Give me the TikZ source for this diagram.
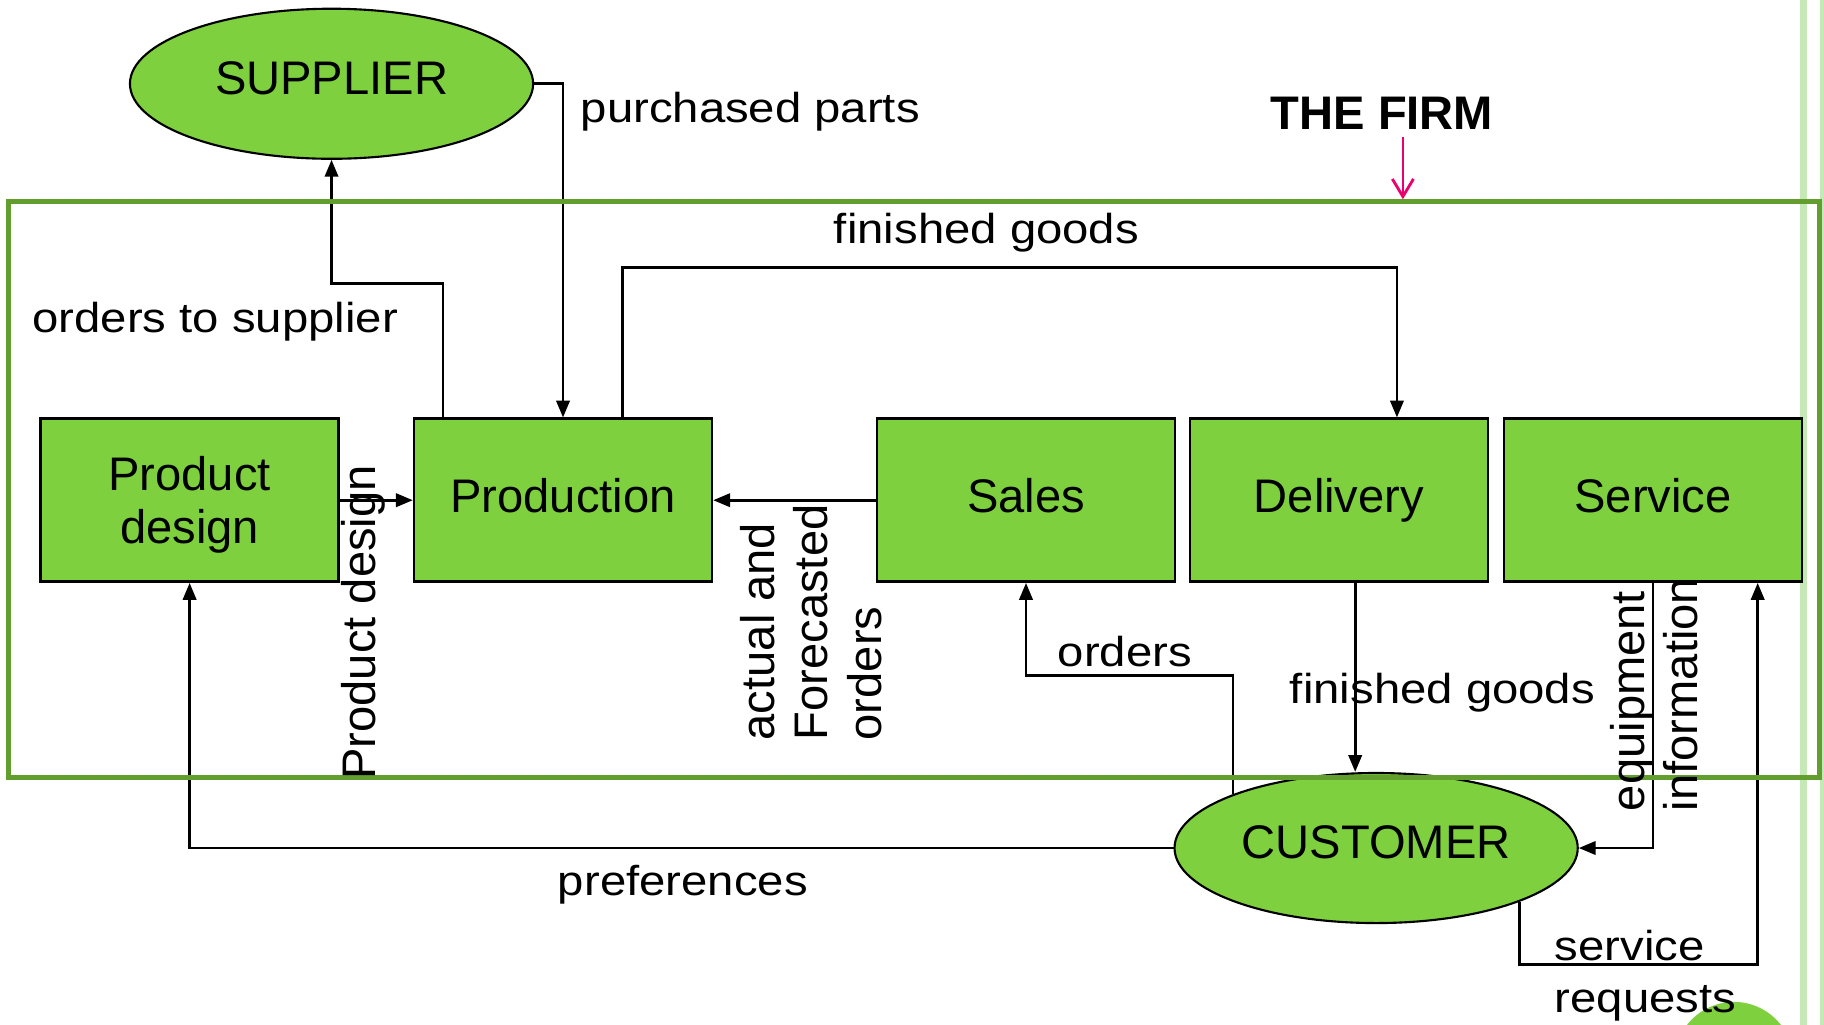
\documentclass[tikz,border=0pt]{standalone}
\usepackage{fontspec}
\setmainfont{Liberation Sans}
\usepackage{graphicx}
\usepackage{tikz}
\usetikzlibrary{arrows.meta,positioning,calc,shapes.geometric}
\definecolor{unitc}{RGB}{126,208,62}
\definecolor{firmc}{RGB}{98,158,46}
\definecolor{stripec}{RGB}{197,232,183}
\definecolor{markc}{RGB}{235,0,110}
\newcommand{\wide}[1]{\scalebox{1.13}[1]{#1}}

\begin{document}
\begin{tikzpicture}[x=0.011633cm, y=-0.011633cm,
  every node/.style={font=\fontsize{13.4}{15.2}\selectfont},
  dept/.style={draw=black, fill=unitc, line width=0.7pt, minimum width=2.978cm, minimum height=1.629cm, inner sep=0pt, align=center},
  oneline/.style={text height=0.8em, text depth=0.128em},
  party/.style={ellipse, draw=black, fill=unitc, line width=0.6pt, minimum width=4.03cm, minimum height=1.5cm, inner sep=0pt, text height=0.8em, text depth=0.18em},
  flow/.style={line width=0.75pt, -{Triangle[length=4.8pt, width=3.8pt]}},
  lbl/.style={inner sep=0pt, anchor=base, font=\fontsize{11.9}{14.8}\selectfont},
  rlbl/.style={inner sep=0pt, rotate=90, align=left}]
  \useasboundingbox (0,0) rectangle (1568,881);
  % slide trim on the right edge
  \fill[stripec] (1547,0) rectangle (1553.5,881);
  \fill[stripec] (1564.5,0) rectangle (1568,881);
  \fill[unitc] (1490.6,912.5) circle[radius=51.2];
  % outside parties
  \node[party] (sup) at (285,72) {SUPPLIER};
  \node[party] (cus) at (1183,729) {CUSTOMER};
  % departments of the firm
  \node[dept] (pd) at (163,430) {\rule{0pt}{0.93em}Product\\design};
  \node[dept, oneline] (prod) at (484,430)  {Production};
  \node[dept, oneline] (sal)  at (882,430)  {Sales};
  \node[dept, oneline] (del)  at (1151,430) {Delivery};
  \node[dept, oneline] (srv)  at (1421,430) {Service};
  % flows between them
  \draw[flow] (sup.east) -| (prod.north);
  \draw[flow] ($(prod.north west)+(26,0)$) -- ++(0,-115) -| (sup.south);
  \draw[flow] ($(prod.north west)+(180,0)$) -- ++(0,-129) -| ($(del.north west)+(179,0)$);
  \draw[flow] (pd.east) -- (prod.west);
  \draw[flow] (sal.west) -- (prod.east);
  \draw[flow] (cus.north west) -- ++(0,-102) -| (sal.south);
  \draw[flow] ($(del.south)+(14,0)$) coordinate (fg) -- (fg |- cus.north);
  \draw[flow] (cus.west) -| (pd.south);
  \draw[flow] (srv.south) |- (cus.east);
  \draw[flow] (cus.south east) -- ++(0,54) -| ($(srv.south)+(90,0)$);
  % the firm boundary
  \node[draw=firmc, line width=1.3pt, minimum width=18.099cm, minimum height=5.754cm, inner sep=0pt] (firm) at (785.7,420.7) {};
  \node[font=\bfseries\fontsize{13.4}{15.2}\selectfont] (firm title) at (1188,97) {THE FIRM};
  \coordinate (firm mark) at (1206,118);
  \draw[markc, line width=0.8pt, -{Straight Barb[length=5pt,width=6pt]}] (firm mark) -- (firm mark |- firm.north);
  % flow labels
  \node[lbl] (l-pp)  at (645,105)  {\wide{purchased parts}};
  \node[lbl] (l-ots) at (185,286)  {\wide{orders to supplier}};
  \node[lbl] (l-fg1) at (848,209)  {\wide{finished goods}};
  \node[lbl] (l-ord) at (967,573)  {\wide{orders}};
  \node[lbl] (l-fg2) at (1240,605) {\wide{finished goods}};
  \node[lbl] (l-pref) at (587,770) {\wide{preferences}};
  \node[lbl, anchor=base west, align=left] (l-sr) at (1336,870) {\wide{service}\\\wide{requests}};
  \node[rlbl] (l-pd) at (312,535) {Product design};
  \node[rlbl] (l-afo) at (697,535) {actual and\\Forecasted\\orders};
  \node[rlbl] (l-eqi) at (1422,597) {equipment\\information};
\end{tikzpicture}
\end{document}
